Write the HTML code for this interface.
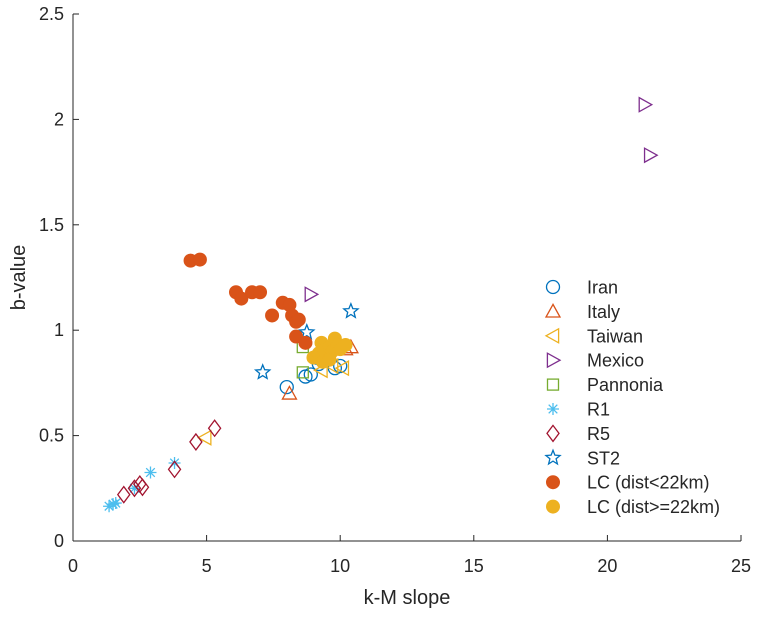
<!DOCTYPE html>
<html><head><meta charset="utf-8"><style>
body{margin:0;background:#fff;font-family:"Liberation Sans",sans-serif}
svg text{font-family:"Liberation Sans",sans-serif;fill:#262626}
</style></head><body>
<svg id="c" width="758" height="612" xmlns="http://www.w3.org/2000/svg"></svg>
<script>
const xTicks=[0,5,10,15,20,25];
const yTicks=[0,0.5,1,1.5,2,2.5];
const yTickLabels=["0","0.5","1","1.5","2","2.5"];
const iranX=[8.0,8.7,8.9,9.1,9.8,10.0,9.2];
const iranY=[0.73,0.78,0.79,0.87,0.82,0.83,0.84];
const italyX=[8.1,10.2,10.4];
const italyY=[0.70,0.91,0.92];
const taiwanX=[4.95,9.3,9.7,10.1];
const taiwanY=[0.49,0.81,0.83,0.82];
const mexicoX=[21.4,21.6,8.9];
const mexicoY=[2.07,1.83,1.17];
const pannX=[8.6,8.6];
const pannY=[0.80,0.92];
const r1X=[1.35,1.5,1.6,2.3,2.9,3.8];
const r1Y=[0.165,0.175,0.18,0.25,0.325,0.37];
const r5X=[1.9,2.3,2.5,2.6,3.8,4.6,5.3];
const r5Y=[0.22,0.25,0.27,0.255,0.34,0.47,0.535];
const st2X=[7.1,8.75,10.4];
const st2Y=[0.80,0.99,1.09];
const lcNearX=[4.4,4.75,6.1,6.3,6.7,7.0,7.45,7.85,8.1,8.2,8.35,8.45,8.35,8.7];
const lcNearY=[1.33,1.335,1.18,1.15,1.18,1.18,1.07,1.13,1.12,1.07,1.04,1.05,0.97,0.94];
const lcFarX=[9.0,9.2,9.3,9.4,9.5,9.6,9.7,9.8,9.9,10.0,10.2,9.35,9.6];
const lcFarY=[0.87,0.89,0.94,0.91,0.88,0.92,0.90,0.96,0.93,0.91,0.93,0.85,0.86];
const legendLabels=["Iran","Italy","Taiwan","Mexico","Pannonia","R1","R5","ST2","LC (dist<22km)","LC (dist>=22km)"];

const L=73,R=741,T=14,B=541;
const sx=v=>L+v/25*(R-L), sy=v=>B-v/2.5*(B-T);
const svg=document.getElementById('c');
const NS="http://www.w3.org/2000/svg";
function mk(tag,attrs,parent){const e=document.createElementNS(NS,tag);for(const k in attrs)e.setAttribute(k,attrs[k]);(parent||svg).appendChild(e);return e;}
function marker(type,color,x,y,g){
  const s=7;let e;
  if(type==='o')e=mk('circle',{cx:x,cy:y,r:6.5,fill:'none',stroke:color,'stroke-width':1.3},g);
  else if(type==='^')e=mk('polygon',{points:`${x},${y-s} ${x-s},${y+s*0.8} ${x+s},${y+s*0.8}`,fill:'none',stroke:color,'stroke-width':1.3},g);
  else if(type==='<')e=mk('polygon',{points:`${x-s},${y} ${x+s*0.8},${y-s} ${x+s*0.8},${y+s}`,fill:'none',stroke:color,'stroke-width':1.3},g);
  else if(type==='>')e=mk('polygon',{points:`${x+s},${y} ${x-s*0.8},${y-s} ${x-s*0.8},${y+s}`,fill:'none',stroke:color,'stroke-width':1.3},g);
  else if(type==='s')e=mk('rect',{x:x-5.5,y:y-5.5,width:11,height:11,fill:'none',stroke:color,'stroke-width':1.3},g);
  else if(type==='d')e=mk('polygon',{points:`${x},${y-8} ${x-6},${y} ${x},${y+8} ${x+6},${y}`,fill:'none',stroke:color,'stroke-width':1.3},g);
  else if(type==='*')e=mk('path',{d:`M${x-6} ${y}H${x+6}M${x} ${y-6}V${y+6}M${x-4.3} ${y-4.3}L${x+4.3} ${y+4.3}M${x-4.3} ${y+4.3}L${x+4.3} ${y-4.3}`,stroke:color,'stroke-width':1.3,fill:'none'},g);
  else if(type==='p'){let p=[];for(let i=0;i<10;i++){const r=i%2?3.3:7.5,a=-Math.PI/2+i*Math.PI/5;p.push((x+r*Math.cos(a)).toFixed(1)+','+(y+r*Math.sin(a)).toFixed(1));}e=mk('polygon',{points:p.join(' '),fill:'none',stroke:color,'stroke-width':1.3},g);}
  else if(type==='f')e=mk('circle',{cx:x,cy:y,r:6.5,fill:color,stroke:color,'stroke-width':1},g);
  return e;
}
const series=[
 ['o','#0072BD',iranX,iranY,'iran'],['^','#D95319',italyX,italyY,'italy'],['<','#EDB120',taiwanX,taiwanY,'taiwan'],
 ['>','#7E2F8E',mexicoX,mexicoY,'mexico'],['s','#77AC30',pannX,pannY,'pannonia'],['*','#4DBEEE',r1X,r1Y,'r1'],
 ['d','#A2142F',r5X,r5Y,'r5'],['p','#0072BD',st2X,st2Y,'st2'],['f','#D95319',lcNearX,lcNearY,'lc-near'],['f','#EDB120',lcFarX,lcFarY,'lc-far']];
const ax=mk('g',{});


mk('line',{x1:L,y1:B,x2:R,y2:B,stroke:'#262626','stroke-width':1},ax);
mk('line',{x1:L,y1:T,x2:L,y2:B,stroke:'#262626','stroke-width':1},ax);
xTicks.forEach(v=>{const x=sx(v);mk('line',{x1:x,y1:B,x2:x,y2:B-6,stroke:'#262626'},ax);
 const t=mk('text',{x:x,y:B+31,'text-anchor':'middle','font-size':18},ax);t.textContent=v;
 });
yTicks.forEach((v,i)=>{const y=sy(v);mk('line',{x1:L,y1:y,x2:L+6,y2:y,stroke:'#262626'},ax);
 const t=mk('text',{x:L-9,y:y+6,'text-anchor':'end','font-size':18},ax);t.textContent=yTickLabels[i];
 });
const xt=mk('text',{x:(L+R)/2,y:B+63,'text-anchor':'middle','font-size':20});xt.textContent='k-M slope';

const yt=mk('text',{x:0,y:0,'text-anchor':'middle','font-size':20,transform:`translate(25,${(T+B)/2}) rotate(-90)`});yt.textContent='b-value';

series.forEach(s=>{const g=mk('g',{});
 
 s[2].forEach((v,i)=>{const m=marker(s[0],s[1],sx(v),sy(s[3][i]),g);
  });});
const lg=mk('g',{});


series.forEach((s,i)=>{const y=287+i*24.4;const e=mk('g',{},lg);
 
 marker(s[0],s[1],553,y,e);const t=mk('text',{x:587,y:y+6.5,'font-size':18},e);t.textContent=legendLabels[i];});
</script>
</body></html>
